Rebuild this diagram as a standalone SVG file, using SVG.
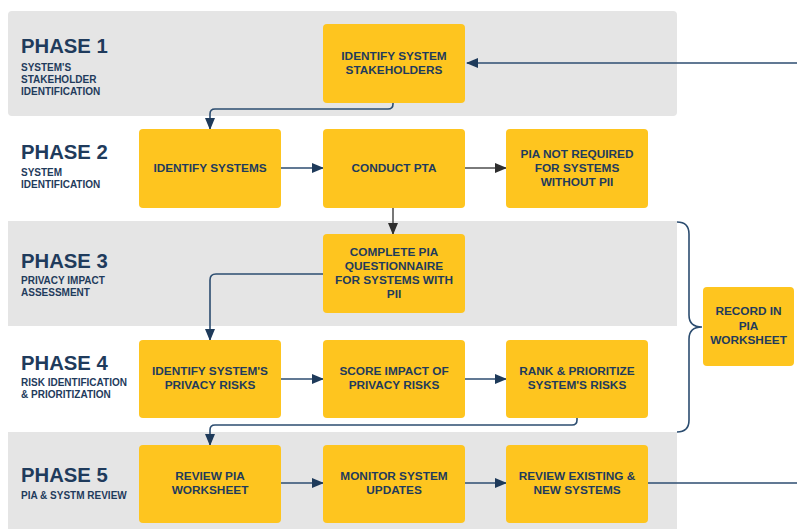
<svg xmlns="http://www.w3.org/2000/svg" width="797" height="529" viewBox="0 0 797 529">
<defs>
<style>
.band{fill:#e5e5e5}
.box{fill:#fec51f}
.ph{font-family:"Liberation Sans",Arial,sans-serif;font-weight:bold;font-size:20.3px;fill:#1f3b5c}
.sub{font-family:"Liberation Sans",Arial,sans-serif;font-weight:bold;font-size:10px;fill:#1f3b5c}
.bt{font-family:"Liberation Sans",Arial,sans-serif;font-weight:bold;font-size:11.8px;fill:#1f3b5c;text-anchor:middle}
.nv{fill:none;stroke:#2c4d70;stroke-width:1.6}
.gr{fill:none;stroke:#7a7a7a;stroke-width:2}
.gr2{fill:none;stroke:#555;stroke-width:1.6}
</style>
<marker id="an" markerUnits="userSpaceOnUse" markerWidth="12" markerHeight="10" viewBox="0 0 12 10" refX="11" refY="5" orient="auto">
<path d="M0,0 L12,5 L0,10 Z" fill="#1e3a5a"/>
</marker>
<marker id="ag" markerUnits="userSpaceOnUse" markerWidth="12" markerHeight="10" viewBox="0 0 12 10" refX="11" refY="5" orient="auto">
<path d="M0,0 L12,5 L0,10 Z" fill="#2e2e2e"/>
</marker>
</defs>

<g id="bands">
<rect class="band" x="8" y="11" width="669" height="105" rx="4"/>
<rect class="band" x="8" y="221" width="669" height="105"/>
<rect class="band" x="8" y="432" width="669" height="100"/>
</g>

<g id="labels">
<text class="ph" x="21" y="53">PHASE 1</text>
<text class="sub" x="21" y="71">SYSTEM'S</text>
<text class="sub" x="21" y="83">STAKEHOLDER</text>
<text class="sub" x="21" y="95">IDENTIFICATION</text>
<text class="ph" x="21" y="159">PHASE 2</text>
<text class="sub" x="21" y="176">SYSTEM</text>
<text class="sub" x="21" y="188">IDENTIFICATION</text>
<text class="ph" x="21" y="268">PHASE 3</text>
<text class="sub" x="21" y="284">PRIVACY IMPACT</text>
<text class="sub" x="21" y="296">ASSESSMENT</text>
<text class="ph" x="21" y="370">PHASE 4</text>
<text class="sub" x="21" y="386">RISK IDENTIFICATION</text>
<text class="sub" x="21" y="398">&amp; PRIORITIZATION</text>
<text class="ph" x="21" y="482">PHASE 5</text>
<text class="sub" x="21" y="499">PIA &amp; SYSTM REVIEW</text>
</g>

<g id="connectors">
<path class="nv" d="M797,63 H467" stroke-width="2" marker-end="url(#an)"/>
<path class="nv" d="M393,103 V104 Q393,109 388,109 H215 Q210,109 210,114 V129" marker-end="url(#an)"/>
<path class="nv" d="M281,168 H323" marker-end="url(#an)"/>
<path class="gr" d="M465,168 H506" marker-end="url(#ag)"/>
<path class="gr2" d="M393,208 V234" marker-end="url(#ag)"/>
<path class="nv" d="M323,274 H216 Q210,274 210,280 V340" marker-end="url(#an)"/>
<path class="nv" d="M281,379 H323" marker-end="url(#an)"/>
<path class="nv" d="M465,379 H506" marker-end="url(#an)"/>
<path class="nv" d="M577,418 V420 Q577,425 572,425 H215 Q210,425 210,430 V445" marker-end="url(#an)"/>
<path class="nv" d="M281,483 H323" marker-end="url(#an)"/>
<path class="nv" d="M465,483 H506" marker-end="url(#an)"/>
<path class="nv" d="M648,483 H797"/>
<path class="nv" d="M677,222 Q689,222 689,234 V315 Q689,327 702,327 Q689,327 689,339 V420 Q689,432 677,432"/>
</g>

<g id="n1"><rect class="box" x="323" y="24" width="142" height="79" rx="4"/>
<text class="bt" x="394" y="60">IDENTIFY SYSTEM</text><text class="bt" x="394" y="74">STAKEHOLDERS</text></g>
<g id="n2"><rect class="box" x="139" y="129" width="142" height="79" rx="4"/>
<text class="bt" x="210" y="172">IDENTIFY SYSTEMS</text></g>
<g id="n3"><rect class="box" x="323" y="129" width="142" height="79" rx="4"/>
<text class="bt" x="394" y="172">CONDUCT PTA</text></g>
<g id="n4"><rect class="box" x="506" y="129" width="142" height="79" rx="4"/>
<text class="bt" x="577" y="158">PIA NOT REQUIRED</text><text class="bt" x="577" y="172">FOR SYSTEMS</text><text class="bt" x="577" y="186">WITHOUT PII</text></g>
<g id="n5"><rect class="box" x="323" y="234" width="142" height="79" rx="4"/>
<text class="bt" x="394" y="256">COMPLETE PIA</text><text class="bt" x="394" y="270">QUESTIONNAIRE</text><text class="bt" x="394" y="284">FOR SYSTEMS WITH</text><text class="bt" x="394" y="298">PII</text></g>
<g id="n6"><rect class="box" x="139" y="340" width="142" height="78" rx="4"/>
<text class="bt" x="210" y="375">IDENTIFY SYSTEM'S</text><text class="bt" x="210" y="389">PRIVACY RISKS</text></g>
<g id="n7"><rect class="box" x="323" y="340" width="142" height="78" rx="4"/>
<text class="bt" x="394" y="375">SCORE IMPACT OF</text><text class="bt" x="394" y="389">PRIVACY RISKS</text></g>
<g id="n8"><rect class="box" x="506" y="340" width="142" height="78" rx="4"/>
<text class="bt" x="577" y="375">RANK &amp; PRIORITIZE</text><text class="bt" x="577" y="389">SYSTEM'S RISKS</text></g>
<g id="n9"><rect class="box" x="703" y="287" width="91" height="79" rx="4"/>
<text class="bt" x="748.5" y="315">RECORD IN</text><text class="bt" x="748.5" y="330">PIA</text><text class="bt" x="748.5" y="344">WORKSHEET</text></g>
<g id="n10"><rect class="box" x="139" y="445" width="142" height="78" rx="4"/>
<text class="bt" x="210" y="480">REVIEW PIA</text><text class="bt" x="210" y="494">WORKSHEET</text></g>
<g id="n11"><rect class="box" x="323" y="445" width="142" height="78" rx="4"/>
<text class="bt" x="394" y="480">MONITOR SYSTEM</text><text class="bt" x="394" y="494">UPDATES</text></g>
<g id="n12"><rect class="box" x="506" y="445" width="142" height="78" rx="4"/>
<text class="bt" x="577" y="480">REVIEW EXISTING &amp;</text><text class="bt" x="577" y="494">NEW SYSTEMS</text></g>
</svg>
